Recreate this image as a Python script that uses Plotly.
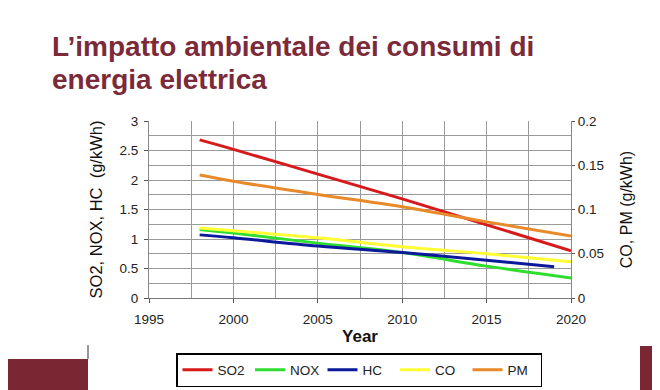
import plotly.graph_objects as go

# Data
years_so2 = [1998, 2000, 2005, 2010, 2015, 2020]
so2 = [2.68, 2.52, 2.10, 1.68, 1.24, 0.80]
years_nox = [1998, 2000, 2005, 2010, 2015, 2020]
nox = [1.16, 1.10, 0.93, 0.77, 0.54, 0.34]
years_hc = [1998, 2000, 2005, 2010, 2015, 2019]
hc = [1.07, 1.02, 0.88, 0.77, 0.64, 0.53]
years_co = [1998, 2000, 2005, 2010, 2015, 2020]
co = [0.079, 0.076, 0.068, 0.058, 0.050, 0.041]
years_pm = [1998, 2000, 2005, 2010, 2015, 2020]
pm = [0.139, 0.132, 0.117, 0.103, 0.086, 0.070]

title_lines = ["L’impatto ambientale dei consumi di", "energia elettrica"]

W, H = 660, 390
OFF = 8  # page body margin offset
# plot area in page pixels
L, R, T, B = 149, 571, 121, 298

def px(x):
    return (x - L) / (R - L)

def py(y):
    return (B - y) / (B - T)

fig = go.Figure()
fig.add_trace(go.Scatter(x=years_so2, y=so2, name="SO2", mode="lines",
                         line=dict(color="#d7191c", width=3), line_shape="spline"))
fig.add_trace(go.Scatter(x=years_nox, y=nox, name="NOX", mode="lines",
                         line=dict(color="#2edd2e", width=3), line_shape="spline"))
fig.add_trace(go.Scatter(x=years_hc, y=hc, name="HC", mode="lines",
                         line=dict(color="#0a1a9a", width=3), line_shape="spline"))
fig.add_trace(go.Scatter(x=years_co, y=co, name="CO", mode="lines", yaxis="y2",
                         line=dict(color="#ffff33", width=3), line_shape="spline"))
fig.add_trace(go.Scatter(x=years_pm, y=pm, name="PM", mode="lines", yaxis="y2",
                         line=dict(color="#e8892a", width=3), line_shape="spline"))

tickfont = dict(family="Liberation Sans, Arial", size=13.5, color="#222")
grid = "#9a9a9a"

fig.update_layout(
    width=W, height=H,
    margin=dict(l=L - OFF, r=W - (R - OFF), t=T - OFF, b=H - (B - OFF), pad=0),
    paper_bgcolor="white", plot_bgcolor="white",
    showlegend=True,
    font=dict(family="Liberation Sans, Arial"),
    xaxis=dict(range=[1995, 2020], dtick=5, tick0=1995, showgrid=True, gridcolor=grid,
               gridwidth=1, minor=dict(dtick=2.5, showgrid=True, gridcolor=grid),
               ticks="outside", ticklen=4, tickcolor="#555", showline=True, linecolor="#777",
               tickfont=tickfont, zeroline=False, automargin=False, ticklabelstandoff=5,
               title=dict(text="<b>Year</b>", font=dict(size=17, color="#111"), standoff=3)),
    yaxis=dict(range=[0, 3], dtick=0.5, showgrid=True, gridcolor=grid,
               minor=dict(dtick=0.25, showgrid=True, gridcolor=grid),
               ticks="outside", ticklen=4, tickcolor="#555", tickfont=tickfont,
               zeroline=False, showline=True, linecolor="#888", automargin=False,
               ticklabelstandoff=3,
               title=dict(text="SO2, NOX, HC  (g/kWh)", font=dict(size=16.5, color="#111"),
                          standoff=12)),
    yaxis2=dict(range=[0, 0.2], dtick=0.05, overlaying="y", side="right", showgrid=False,
                ticks="outside", ticklen=3, tickcolor="#555", tickfont=tickfont,
                zeroline=False, showline=True, linecolor="#888", automargin=False,
                tickformat="~g", ticklabelstandoff=0,
                title=dict(text="CO, PM (g/kWh)", font=dict(size=16, color="#111"),
                           standoff=17)),
    legend=dict(orientation="h", xref="container", yref="container",
                x=(177 - OFF - 1) / W, y=1 - (353 - OFF) / H, xanchor="left", yanchor="top",
                bordercolor="black", borderwidth=1.5, bgcolor="white",
                font=dict(size=13.5, color="#222"), itemwidth=30,
                entrywidth=27.5, entrywidthmode="pixels"),
)

for line_text, cy in zip(title_lines, [46, 79]):
    fig.add_annotation(text="<b>" + line_text + "</b>",
                       xref="paper", yref="paper", x=px(50), y=py(cy), xanchor="left",
                       yanchor="middle", align="left", showarrow=False,
                       font=dict(family="Liberation Sans, Arial", size=28, color="#7b2a3a"))

# decorative blocks
fig.add_shape(type="rect", xref="paper", yref="paper", x0=px(0), x1=px(88),
              y0=py(359), y1=py(400), fillcolor="#7b2633", line=dict(width=0), layer="below")
fig.add_shape(type="rect", xref="paper", yref="paper", x0=px(640), x1=px(670),
              y0=py(346), y1=py(400), fillcolor="#7b2633", line=dict(width=0), layer="below")
fig.add_shape(type="line", xref="paper", yref="paper", x0=px(88), x1=px(88),
              y0=py(345), y1=py(359), line=dict(color="#333", width=1))

fig.write_html("out.html")
